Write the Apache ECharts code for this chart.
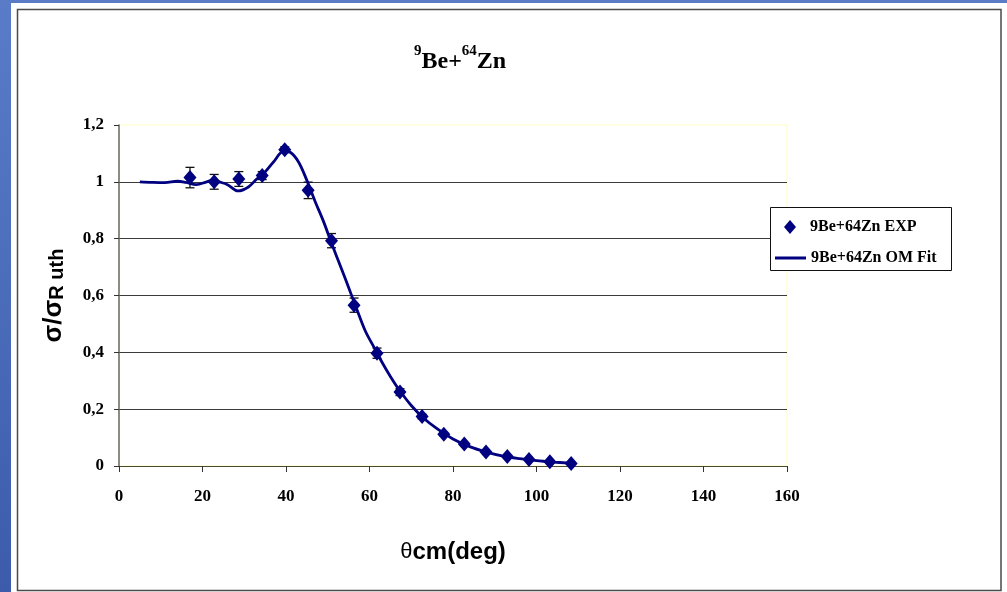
<!DOCTYPE html>
<html>
<head>
<meta charset="utf-8">
<script src="https://cdn.jsdelivr.net/npm/echarts@6/dist/echarts.min.js"></script>
<style>
html,body{margin:0;padding:0;background:#fff;}
#c{width:1007px;height:592px;}
</style>
</head>
<body>
<div id="c"></div>
<script>
// Experimental data: angle (deg, cm), sigma/sigma_Ruth, error
const expTheta = [17.0, 22.8, 28.7, 34.3, 39.7, 45.3, 50.9, 56.3, 61.8, 67.3, 72.6, 77.8, 82.7, 87.9, 93.0, 98.2, 103.2, 108.3];
const expRatio = [1.015, 1.0, 1.01, 1.022, 1.113, 0.97, 0.793, 0.566, 0.397, 0.26, 0.174, 0.112, 0.077, 0.049, 0.033, 0.023, 0.015, 0.009];
const expError = [0.036, 0.026, 0.026, 0.014, 0.01, 0.029, 0.025, 0.025, 0.018, 0.012, 0.008, 0.006, 0.005, 0.004, 0.003, 0.002, 0.002, 0.001];

// Optical model fit curve
const fitTheta = [5, 8, 11, 14, 16, 18.5, 21, 22.5, 24, 26, 28.5, 31, 33, 35, 37, 39.5, 41, 43, 45, 47, 49, 51, 53, 55, 57, 59, 61, 63, 65, 67, 70, 73, 76, 80, 84, 88, 92, 96, 100, 104, 108];
const fitRatio = [1.0, 0.998, 0.997, 1.002, 0.998, 0.99, 1.0, 1.006, 1.0, 0.99, 0.968, 0.982, 1.01, 1.035, 1.07, 1.108, 1.104, 1.07, 1.005, 0.93, 0.86, 0.78, 0.705, 0.628, 0.55, 0.475, 0.42, 0.365, 0.315, 0.27, 0.213, 0.168, 0.133, 0.095, 0.068, 0.049, 0.035, 0.026, 0.019, 0.014, 0.01];

const xTicks = { min: 0, max: 160, interval: 20 };
const yTicks = { min: 0, max: 1.2, interval: 0.2 };

const titleParts = ['9', 'Be+', '64', 'Zn'];
const expName = '9Be+64Zn EXP';
const fitName = '9Be+64Zn OM Fit';

const navy = '#000080';

const chart = echarts.init(document.getElementById('c'), null, { renderer: 'canvas' });

const expData = expTheta.map((t, i) => [t, expRatio[i]]);
const errData = expTheta.map((t, i) => [t, expRatio[i], expError[i]]);
const fitData = fitTheta.map((t, i) => [t, fitRatio[i]]);

function fmtY(v) {
  if (Math.abs(v - Math.round(v)) < 1e-9) return String(Math.round(v));
  return v.toFixed(1).replace('.', ',');
}

const option = {
  backgroundColor: '#ffffff',
  animation: false,
  graphic: [
    { type: 'rect', z: -10, shape: { x: 0, y: 0, width: 1007, height: 592 },
      style: { fill: new echarts.graphic.LinearGradient(0, 0, 0, 1, [{ offset: 0, color: '#5a7cc8' }, { offset: 1, color: '#3c5cab' }]) } },
    { type: 'rect', z: -9, shape: { x: 11, y: 3, width: 996, height: 589 }, style: { fill: '#ffffff' } },
    { type: 'rect', z: -8, shape: { x: 17.5, y: 9.5, width: 983.5, height: 581 }, style: { fill: '#ffffff', stroke: '#4a4a4a', lineWidth: 1.5 } },
    { type: 'rect', z: 50, shape: { x: 770.5, y: 207.5, width: 181, height: 63 }, style: { fill: '#ffffff', stroke: '#111', lineWidth: 1 } }
  ],
  title: {
    text: '{sup|' + titleParts[0] + '}{main|' + titleParts[1] + '}{sup|' + titleParts[2] + '}{main|' + titleParts[3] + '}',
    left: 414, top: 44, padding: 0,
    textStyle: {
      rich: {
        main: { fontFamily: 'Liberation Serif', fontWeight: 'bold', fontSize: 24, lineHeight: 30, color: '#000', verticalAlign: 'bottom' },
        sup: { fontFamily: 'Liberation Serif', fontWeight: 'bold', fontSize: 15, lineHeight: 15, color: '#000', verticalAlign: 'top' }
      }
    }
  },
  legend: [
    { data: [{ name: expName, icon: 'diamond' }], left: 784, top: 219, padding: 0, z: 60,
      itemWidth: 12, itemHeight: 14,
      itemStyle: { opacity: 1 },
      textStyle: { fontFamily: 'Liberation Serif', fontWeight: 'bold', fontSize: 16, color: '#000', padding: [0, 0, 0, 9] } },
    { data: [{ name: fitName, icon: 'rect' }], left: 775, top: 250, padding: 0, z: 60,
      itemWidth: 31, itemHeight: 3,
      itemStyle: { color: navy, opacity: 1 },
      textStyle: { fontFamily: 'Liberation Serif', fontWeight: 'bold', fontSize: 16, color: '#000' } }
  ],
  grid: { left: 119, top: 125, width: 668, height: 341, show: true, borderColor: '#ffffc0', borderWidth: 1, backgroundColor: 'transparent' },
  xAxis: {
    type: 'value', min: xTicks.min, max: xTicks.max, interval: xTicks.interval,
    name: '{a|θ}{b|cm(deg)}', nameLocation: 'middle', nameGap: 74,
    nameTextStyle: { rich: {
      a: { fontFamily: 'Liberation Sans', fontWeight: 'normal', fontSize: 22, color: '#000' },
      b: { fontFamily: 'Liberation Sans', fontWeight: 'bold', fontSize: 24, color: '#000' } } },
    axisLine: { show: true, lineStyle: { color: '#4a4a30', width: 1.2 } },
    axisTick: { show: true, inside: false, length: 6, lineStyle: { color: '#333', width: 1 } },
    axisLabel: { margin: 22, fontFamily: 'Liberation Serif', fontWeight: 'bold', fontSize: 17, color: '#000' },
    splitLine: { show: false }
  },
  yAxis: {
    type: 'value', min: yTicks.min, max: yTicks.max, interval: yTicks.interval,
    name: '{a|σ/σ}{b|R uth}', nameLocation: 'middle', nameRotate: 90, nameGap: 52,
    nameTextStyle: { rich: {
      a: { fontFamily: 'Liberation Sans', fontWeight: 'bold', fontSize: 26, lineHeight: 26, color: '#000', verticalAlign: 'top' },
      b: { fontFamily: 'Liberation Sans', fontWeight: 'bold', fontSize: 20, lineHeight: 20, color: '#000', verticalAlign: 'bottom', padding: [12, 0, 0, 0] } } },
    axisLine: { show: true, lineStyle: { color: '#666', width: 1.5 } },
    axisTick: { show: true, inside: false, length: 5, lineStyle: { color: '#333', width: 1 } },
    axisLabel: { margin: 15, formatter: fmtY, fontFamily: 'Liberation Serif', fontWeight: 'bold', fontSize: 17, color: '#000' },
    splitLine: { show: true, showMaxLine: false, lineStyle: { color: '#3a3a3a', width: 1.2 } }
  },
  series: [
    {
      type: 'custom', name: 'err', z: 1, silent: true,
      data: errData,
      renderItem: function (params, api) {
        const x = api.value(0), y = api.value(1), e = api.value(2);
        const top = api.coord([x, y + e]);
        const bot = api.coord([x, y - e]);
        const cw = 4.5;
        const st = { stroke: '#111', lineWidth: 1.3 };
        return { type: 'group', children: [
          { type: 'line', shape: { x1: top[0], y1: top[1], x2: bot[0], y2: bot[1] }, style: st },
          { type: 'line', shape: { x1: top[0] - cw, y1: top[1], x2: top[0] + cw, y2: top[1] }, style: st },
          { type: 'line', shape: { x1: bot[0] - cw, y1: bot[1], x2: bot[0] + cw, y2: bot[1] }, style: st }
        ] };
      }
    },
    {
      type: 'line', name: fitName, z: 2, data: fitData, smooth: 0.35, symbol: 'none',
      lineStyle: { color: navy, width: 2.8 }, itemStyle: { color: navy }
    },
    {
      type: 'scatter', name: expName, z: 3, data: expData, symbol: 'diamond', symbolSize: [13, 15],
      itemStyle: { color: navy, opacity: 1 }
    }
  ]
};
chart.setOption(option);
</script>
</body>
</html>
